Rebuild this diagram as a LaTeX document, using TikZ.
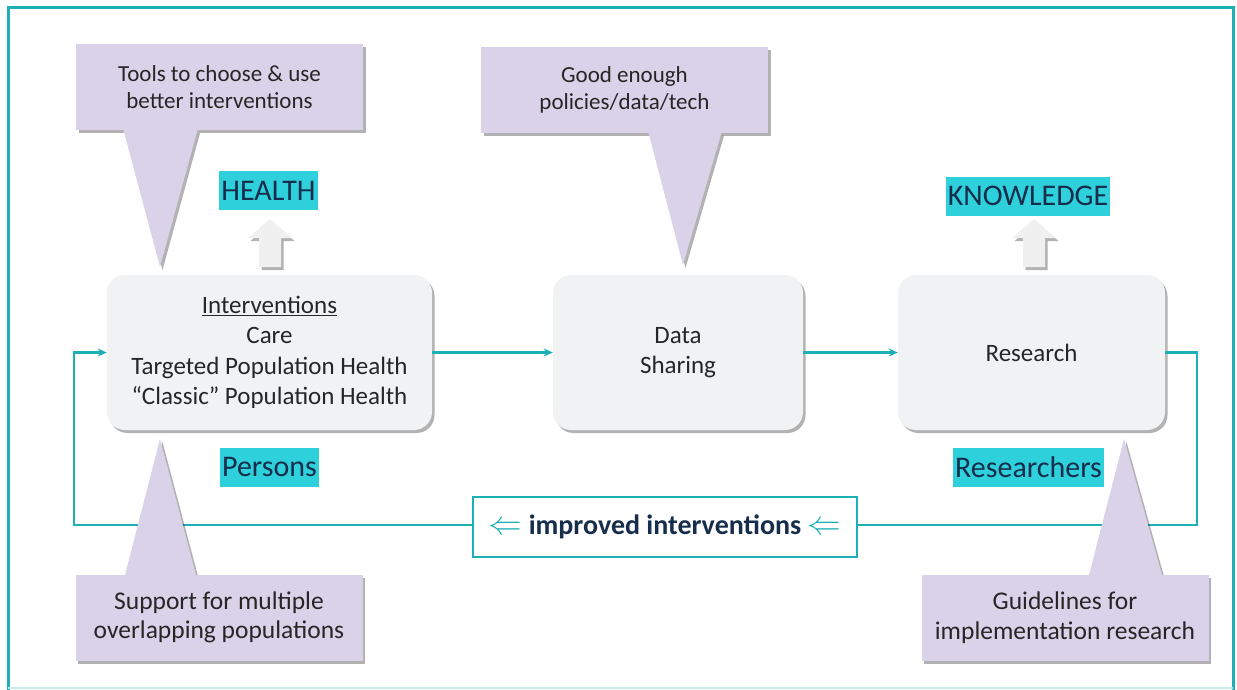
\documentclass[tikz,border=0pt]{standalone}
\usepackage{fontspec}
\setmainfont{Carlito}
\usetikzlibrary{arrows.meta,shadows,positioning}

\definecolor{frameteal}{RGB}{30,176,184}
\definecolor{tagcyan}{RGB}{46,208,220}
\definecolor{navy}{RGB}{22,45,75}
\definecolor{notepurple}{RGB}{217,210,233}
\definecolor{boxgray}{RGB}{241,242,244}
\definecolor{ink}{RGB}{38,38,38}

\newcommand{\backarrow}{{\color{frameteal}\scalebox{1.35}{$\Leftarrow$}}}

\tikzset{
  softshadow/.style={drop shadow={shadow xshift=2.5pt,shadow yshift=-3pt,fill=black,opacity=.3}},
  stage/.style={fill=boxgray,rounded corners=18pt,softshadow,text=ink,align=center,
    minimum height=155pt,font=\fontsize{25}{30.5}\selectfont},
  tag/.style={fill=tagcyan,text=navy,font=\fontsize{30}{36}\selectfont,
    inner xsep=2pt,inner ysep=0pt,minimum height=39pt},
  note/.style={fill=notepurple,softshadow,text=ink,align=center,
    minimum width=287pt,minimum height=86pt,font=\fontsize{23}{27}\selectfont},
  lownote/.style={note,font=\fontsize{25.5}{29.5}\selectfont},
  pointer/.style={fill=notepurple,softshadow},
  wire/.style={draw=frameteal,line width=2.4pt},
  flow/.style={wire,-{Stealth[length=9pt,width=8pt]}},
  liftarrow/.pic={
    \fill[white!94!black,softshadow] (-11,0) -- (-11,-29) -- (-22,-29) -- (0,-48)
      -- (22,-29) -- (11,-29) -- (11,0) -- cycle;
  },
}

\begin{document}
\begin{tikzpicture}[x=1pt,y=-1pt]
  \useasboundingbox (0,0) rectangle (1237,689);
  % outer frame
  \draw[frameteal,line width=3pt] (8,692) -- (8,7) -- (1233,7) -- (1233,692);
  \draw[frameteal!25,line width=1.5pt] (8,688) -- (1233,688);

  % the three stages
  \node[stage,minimum width=325pt] (interv) at (269.5,352.5)
    {\underline{Interventions}\\Care\\Targeted Population Health\\``Classic'' Population Health};
  \node[stage,minimum width=250pt] (sharing) at (678,352.5) {Data\\Sharing};
  \node[stage,minimum width=267pt] (research) at (1031.5,352.5) {Research};

  % feedback label
  \node[draw=frameteal,line width=1.3pt,fill=white,minimum width=384pt,minimum height=60pt,
    text=navy,font=\fontsize{28}{32}\selectfont\bfseries] (improved) at (665,527)
    {\backarrow\ improved interventions \backarrow};

  % connectors
  \coordinate (leftc) at (74,525);
  \coordinate (rightc) at (1197,352.5);
  \draw[flow] (interv.east) -- (sharing.west);
  \draw[flow] (sharing.east) -- (research.west);
  \draw[wire] (research.east) -- (rightc) |- ([yshift=2pt]improved.east);
  \draw[flow] ([yshift=2pt]improved.west) -- (leftc) |- (interv.west);

  % outcome tags and arrows
  \node[tag] (health) at (268.5,190.5) {HEALTH};
  \node[tag] (knowledge) at (1028,196) {KNOWLEDGE};
  \node[tag] (persons) at (269.5,467) {Persons};
  \node[tag] (researchers) at (1028.5,467) {Researchers};
  \pic at (270,267) {liftarrow};
  \pic at (1034,267) {liftarrow};

  % callouts, top row
  \node[note] (tools) at (219.5,87) {Tools to choose \& use\\better interventions};
  \coordinate (toolstip) at (160,267);
  \path[pointer] ([xshift=-96pt]tools.south) -- (toolstip) -- ([xshift=-22pt]tools.south) -- cycle;

  \node[note] (policies) at (624.5,89.5) {Good enough\\policies/data/tech};
  \coordinate (policiestip) at (683,265);
  \path[pointer] ([xshift=24pt]policies.south) -- (policiestip) -- ([xshift=97pt]policies.south) -- cycle;

  % callouts, bottom row
  \coordinate (supporttip) at (160,439);
  \path[pointer] (125,575) -- (supporttip) -- (196,575) -- cycle;
  \node[lownote] (support) at (219,617.5) {Support for multiple\\overlapping populations};

  \coordinate (guidetip) at (1124,439);
  \path[pointer] (1089,575) -- (guidetip) -- (1162,575) -- cycle;
  \node[lownote] (guide) at (1065,617.5) {Guidelines for\\implementation research};
\end{tikzpicture}
\end{document}
